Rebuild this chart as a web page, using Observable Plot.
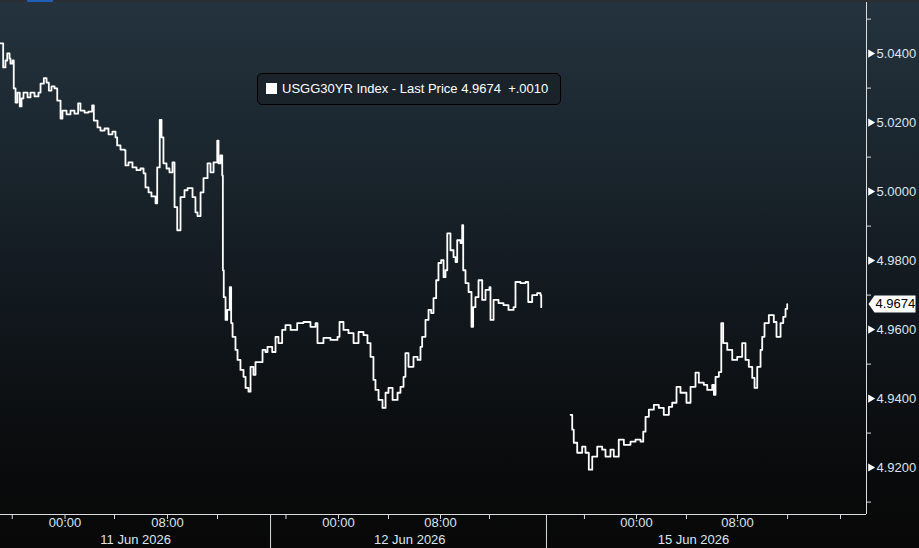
<!DOCTYPE html>
<html>
<head>
<meta charset="utf-8">
<script src="https://cdn.jsdelivr.net/npm/d3@7"></script>
<script src="https://cdn.jsdelivr.net/npm/@observablehq/plot@0.6"></script>
<style>
  html, body { margin: 0; padding: 0; }
  body {
    width: 919px; height: 548px; overflow: hidden;
    background: linear-gradient(to bottom, #24333e 0%, #1a252d 30%, #10161b 60%, #0a0b0c 85%, #080808 100%);
    font-family: "Liberation Sans", Arial, sans-serif;
  }
  #chart { position: relative; width: 919px; height: 548px; }
  #topbar { position: absolute; left: 0; top: 0; width: 919px; height: 2px; background: #2b2f33; }
  #topbar span { position: absolute; left: 27px; top: 0; width: 26px; height: 2px; background: #1f5fb8; }
  #legend {
    position: absolute; left: 257px; top: 73px; width: 302px; height: 30px;
    background: #1b232a; border: 1px solid #000; border-radius: 5px;
    color: #fff; font-size: 13px; line-height: 30px; white-space: pre;
  }
  #legend i { display: inline-block; width: 11px; height: 11px; background: #fff; margin: 0 5px 0 8px; vertical-align: -1px; }
</style>
</head>
<body>
<div id="chart"><div id="topbar"><span></span></div></div>
<script>
// USGG30YR intraday, x = hours along the gap-free session axis
const hours = [
  0.00, 0.21, 0.39, 0.53, 0.71, 0.78, 0.94, 1.04, 1.18, 1.33, 1.51, 1.65, 1.80, 2.12, 2.35, 2.67, 2.98,
  3.14, 3.40, 3.61, 3.79, 4.00, 4.24, 4.45, 4.71, 4.86, 5.18, 5.49, 5.80, 6.09, 6.27, 6.59, 6.90, 7.19,
  7.32, 7.61, 7.84, 8.16, 8.47, 8.78, 9.02, 9.15, 9.41, 9.73, 9.80, 10.04, 10.35, 10.67, 10.98, 11.22,
  11.37, 11.61, 11.84, 12.16, 12.29, 12.49, 12.63, 12.78, 13.02, 13.25, 13.49, 13.65, 13.86, 14.12, 14.43,
  14.67, 15.06, 15.29, 15.45, 15.69, 15.92, 16.24, 16.47, 16.71, 17.00, 17.10, 17.25, 17.39, 17.44, 17.51,
  17.65, 17.78, 17.98, 18.09, 18.20, 18.43, 18.59, 18.82, 19.06, 19.22, 19.45, 19.61, 19.84, 20.00, 20.39,
  20.55, 20.78, 20.94, 21.31, 21.57, 21.80, 22.09, 22.35, 22.75, 23.27, 23.76, 24.31, 24.71, 24.86, 25.33,
  25.88, 26.43, 26.59, 26.90, 27.29, 27.69, 28.08, 28.47, 28.78, 29.02, 29.25, 29.41, 29.65, 29.96, 30.20,
  30.43, 30.75, 31.14, 31.37, 31.61, 31.76, 32.00, 32.39, 32.71, 32.94, 33.07, 33.33, 33.57, 33.78, 33.96,
  34.17, 34.35, 34.56, 34.75, 34.90, 35.04, 35.29, 35.53, 35.69, 35.82, 36.08, 36.21, 36.29, 36.47, 36.71,
  36.94, 37.07, 37.25, 37.49, 37.78, 38.04, 38.35, 38.43, 38.67, 39.06, 39.45, 39.84, 40.24, 40.39, 40.78,
  41.18, 41.39, 41.70, 42.09, 42.35, 42.41,
  43.50,
  44.71, 44.84, 44.96, 45.23, 45.62, 45.88, 46.14, 46.41, 46.80, 47.19, 47.45, 47.84, 48.10, 48.49, 48.89,
  49.41, 49.80, 50.20, 50.41, 50.59, 50.85, 51.24, 51.63, 52.02, 52.42, 52.68, 53.02, 53.33, 53.80, 54.12,
  54.51, 54.77, 55.16, 55.43, 55.82, 55.95, 56.08, 56.34, 56.53, 56.68, 57.00, 57.39, 57.78, 58.17, 58.43,
  58.69, 58.96, 59.14, 59.35, 59.61, 59.74, 59.92, 60.26, 60.65, 60.86, 61.18, 61.39, 61.57, 61.70
];
const yields = [
  5.0430, 5.0360, 5.0380, 5.0401, 5.0386, 5.0371, 5.0380, 5.0299, 5.0258, 5.0287, 5.0247, 5.0270, 5.0287, 5.0273, 5.0287, 5.0276, 5.0287,
  5.0313, 5.0329, 5.0316, 5.0293, 5.0305, 5.0299, 5.0264, 5.0212, 5.0235, 5.0224, 5.0235, 5.0226, 5.0256, 5.0235, 5.0229, 5.0232, 5.0250,
  5.0206, 5.0186, 5.0177, 5.0183, 5.0166, 5.0174, 5.0157, 5.0134, 5.0122, 5.0120, 5.0076, 5.0085, 5.0070, 5.0062, 5.0067, 5.0053,
  5.0012, 4.9998, 4.9986, 4.9966, 5.0070, 5.0208, 5.0157, 5.0082, 5.0067, 5.0056, 5.0085, 4.9955, 4.9888, 4.9984, 5.0004,
  5.0010, 4.9984, 4.9940, 4.9929, 4.9998, 5.0039, 5.0082, 5.0056, 5.0085, 5.0148, 5.0082, 5.0105, 5.0047, 4.9772, 4.9694,
  4.9628, 4.9657, 4.9723, 4.9619, 4.9579, 4.9541, 4.9512, 4.9483, 4.9463, 4.9431, 4.9420, 4.9492, 4.9469, 4.9506, 4.9506,
  4.9541, 4.9535, 4.9550, 4.9535, 4.9579, 4.9561, 4.9599, 4.9613, 4.9599, 4.9619, 4.9622, 4.9608, 4.9619, 4.9561, 4.9576,
  4.9570, 4.9579, 4.9622, 4.9599, 4.9590, 4.9561, 4.9593, 4.9584, 4.9561, 4.9521, 4.9454, 4.9425, 4.9396, 4.9373, 4.9417,
  4.9431, 4.9396, 4.9417, 4.9434, 4.9463, 4.9532, 4.9492, 4.9521, 4.9512, 4.9550, 4.9579, 4.9628, 4.9657, 4.9648, 4.9691,
  4.9743, 4.9793, 4.9801, 4.9752, 4.9772, 4.9879, 4.9830, 4.9810, 4.9796, 4.9859, 4.9851, 4.9903, 4.9772, 4.9735, 4.9709,
  4.9608, 4.9665, 4.9694, 4.9743, 4.9686, 4.9715, 4.9723, 4.9628, 4.9686, 4.9677, 4.9671, 4.9657, 4.9665, 4.9738, 4.9735,
  4.9738, 4.9680, 4.9700, 4.9706, 4.9700, 4.9665,
  null,
  4.9353, 4.9310, 4.9272, 4.9243, 4.9261, 4.9243, 4.9194, 4.9232, 4.9261, 4.9252, 4.9232, 4.9252, 4.9232, 4.9281, 4.9266,
  4.9275, 4.9281, 4.9275, 4.9304, 4.9347, 4.9368, 4.9382, 4.9373, 4.9353, 4.9376, 4.9388, 4.9434, 4.9417, 4.9388, 4.9434,
  4.9475, 4.9446, 4.9440, 4.9425, 4.9440, 4.9411, 4.9463, 4.9477, 4.9619, 4.9561, 4.9541, 4.9512, 4.9521, 4.9561, 4.9512,
  4.9492, 4.9460, 4.9431, 4.9492, 4.9541, 4.9579, 4.9619, 4.9642, 4.9622, 4.9579, 4.9619, 4.9637, 4.9660, 4.9674
];

const lastPrice = 4.9674;
const change = "+.0010";
const seriesName = "USGG30YR Index - Last Price";

const majorTicks = [4.92, 4.94, 4.96, 4.98, 5.00, 5.02, 5.04];
const minorTicks = [4.91, 4.93, 4.95, 4.97, 4.99, 5.01, 5.03, 5.05];

const tickHours = [0.92, 5.06, 8.94, 13.1, 17.02, 22.39, 26.51, 30.43, 34.51, 38.35, 45.8, 49.88, 53.8, 57.8, 61.73, 65.88];
const timeHours = [5.06, 13.1, 26.51, 34.51, 49.88, 57.8];
const timeLabels = ["00:00", "08:00", "00:00", "08:00", "00:00", "08:00"];
const dayHours = [10.6, 32.1, 54.35];
const dayLabels = ["11 Jun 2026", "12 Jun 2026", "15 Jun 2026"];
const sessionBreaks = [21.18, 42.82];

function YieldChart(){
    const data = hours.map((h, i) => ({h, v: yields[i]}));
    const xMax = 67.92;
    const frameH = 514;
    const axisColor = "#d9dde0";
    const textColor = "#dbe5ef";

    // white price tag with a point on the left
    const priceTag = {
        draw(ctx) {
            ctx.moveTo(0, 0);
            ctx.lineTo(6, -8.5);
            ctx.lineTo(47, -8.5);
            ctx.lineTo(47, 8.5);
            ctx.lineTo(6, 8.5);
            ctx.closePath();
        }
    };

    const plot = Plot.plot({
        width: 919,
        height: 548,
        marginLeft: 0,
        marginRight: 53,
        marginTop: 0,
        marginBottom: 34,
        style: {background: "transparent", fontFamily: "Liberation Sans, Arial, sans-serif", fontSize: "13px", color: textColor},
        x: {domain: [0, xMax], axis: null},
        y: {domain: [4.9064, 5.0554], axis: null},
        marks: [
            Plot.ruleY([4.9064], {stroke: axisColor}),
            Plot.ruleX([xMax], {stroke: axisColor}),
            Plot.axisY(minorTicks, {anchor: "right", tickSize: 4, tickFormat: () => "", stroke: axisColor, label: null}),
            Plot.axisY(majorTicks, {anchor: "right", tickSize: 0, tickPadding: 10, tickFormat: d => d.toFixed(4), fill: textColor, fontSize: 13, label: null}),
            Plot.dot(majorTicks, {y: d => d, frameAnchor: "right", dx: 4, symbol: "triangle", rotate: 90, r: 3, fill: "white", stroke: "none"}),
            Plot.ruleX(tickHours, {stroke: axisColor, insetTop: frameH, insetBottom: -5}),
            Plot.ruleX(sessionBreaks, {stroke: axisColor, insetTop: frameH, insetBottom: -34}),
            Plot.text(timeLabels, {x: (d, i) => timeHours[i], frameAnchor: "bottom", dy: 12, text: d => d, fill: textColor, fontSize: 13}),
            Plot.text(dayLabels, {x: (d, i) => dayHours[i], frameAnchor: "bottom", dy: 29, text: d => d, fill: textColor, fontSize: 13}),
            Plot.line(data, {x: "h", y: "v", stroke: "white", strokeWidth: 1.8, curve: "step-after"}),
            Plot.dot([lastPrice], {y: d => d, frameAnchor: "right", dx: 2, symbol: priceTag, fill: "white", stroke: "none"}),
            Plot.text([lastPrice], {y: d => d, frameAnchor: "right", dx: 9, textAnchor: "start", text: d => d.toFixed(4), fill: "black", fontSize: 13})
        ]
    });

    const legend = document.createElement("div");
    legend.id = "legend";
    legend.innerHTML = "<i></i>" + seriesName + " " + lastPrice.toFixed(4) + "  " + change;

    const wrap = (...elems) => {
        const div = document.getElementById("chart");
        elems.forEach(el => div.appendChild(el));
        return div;
    };
    return wrap(plot, legend);
}

YieldChart();
</script>
</body>
</html>
